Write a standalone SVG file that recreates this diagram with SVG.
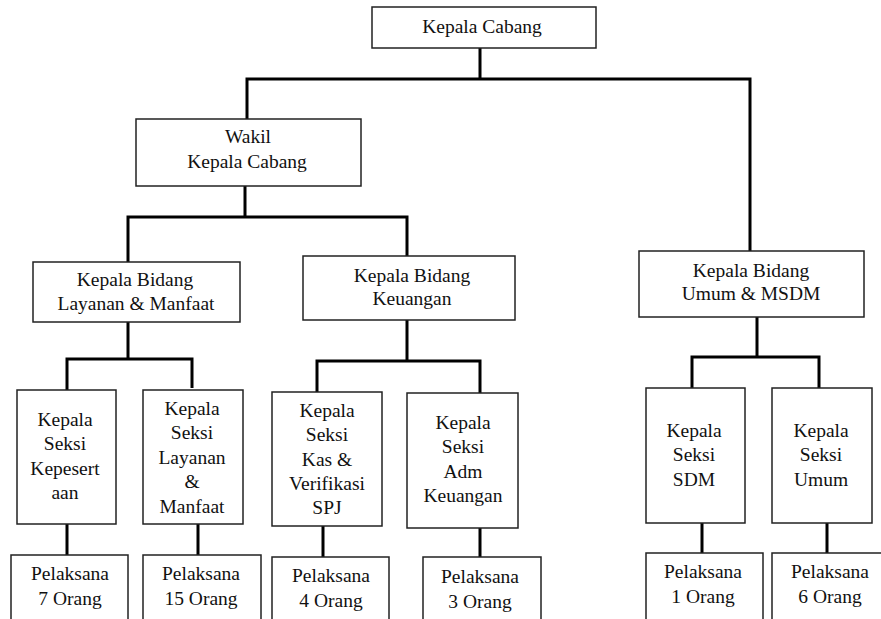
<svg xmlns="http://www.w3.org/2000/svg" width="881" height="619" viewBox="0 0 881 619">
<style>
.box{fill:#fff;stroke:#222;stroke-width:1.5}
.t{font-family:'Liberation Serif','Tinos','DejaVu Serif',serif;font-size:19.5px;fill:#111;text-anchor:middle}
.c{fill:none;stroke:#000;stroke-width:3;stroke-linejoin:miter}
</style>
<rect width="881" height="619" fill="#fff"/>
<g id="connectors">
<path class="c" d="M480,48V79M247,119V79H750V251"/>
<path class="c" d="M245,186V217M128,262V217H407V256"/>
<path class="c" d="M128,322V359M67,390V359H192V388"/>
<path class="c" d="M407,320V361M317,392V361H480V393"/>
<path class="c" d="M757,317V357M692,388V357H819V388"/>
<path class="c" d="M67,524V555M198,524V555M323,526V557M480,528V557M702,523V553M827,523V553"/>
</g>
<g id="kepala-cabang"><rect class="box" x="372" y="7" width="224" height="41"/><text class="t" x="482" y="33">Kepala Cabang</text></g>
<g id="wakil"><rect class="box" x="136" y="119" width="225" height="67"/><text class="t" x="248" y="143">Wakil</text><text class="t" x="247" y="168">Kepala Cabang</text></g>
<g id="bidang-layanan"><rect class="box" x="33" y="262" width="207" height="60"/><text class="t" x="135" y="286">Kepala Bidang</text><text class="t" x="136" y="310">Layanan &amp; Manfaat</text></g>
<g id="bidang-keuangan"><rect class="box" x="303" y="256" width="212" height="64"/><text class="t" x="412" y="282">Kepala Bidang</text><text class="t" x="412" y="305">Keuangan</text></g>
<g id="bidang-umum"><rect class="box" x="639" y="251" width="225" height="66"/><text class="t" x="751" y="277">Kepala Bidang</text><text class="t" x="751" y="300">Umum &amp; MSDM</text></g>
<g id="seksi-kepesertaan"><rect class="box" x="17" y="390" width="99" height="134"/><text class="t" x="65" y="426">Kepala</text><text class="t" x="65" y="450">Seksi</text><text class="t" x="65" y="475">Kepesert</text><text class="t" x="65" y="499">aan</text></g>
<g id="seksi-layanan"><rect class="box" x="143" y="390" width="100" height="134"/><text class="t" x="192" y="415">Kepala</text><text class="t" x="192" y="439">Seksi</text><text class="t" x="192" y="464">Layanan</text><text class="t" x="192" y="488">&amp;</text><text class="t" x="192" y="513">Manfaat</text></g>
<g id="seksi-kas"><rect class="box" x="272" y="392" width="110" height="134"/><text class="t" x="327" y="417">Kepala</text><text class="t" x="327" y="441">Seksi</text><text class="t" x="327" y="466">Kas &amp;</text><text class="t" x="327" y="490">Verifikasi</text><text class="t" x="327" y="514">SPJ</text></g>
<g id="seksi-adm"><rect class="box" x="407" y="393" width="111" height="135"/><text class="t" x="463" y="429">Kepala</text><text class="t" x="463" y="453">Seksi</text><text class="t" x="463" y="478">Adm</text><text class="t" x="463" y="502">Keuangan</text></g>
<g id="seksi-sdm"><rect class="box" x="646" y="388" width="99" height="135"/><text class="t" x="694" y="437">Kepala</text><text class="t" x="694" y="461">Seksi</text><text class="t" x="694" y="486">SDM</text></g>
<g id="seksi-umum"><rect class="box" x="772" y="388" width="100" height="135"/><text class="t" x="821" y="437">Kepala</text><text class="t" x="821" y="461">Seksi</text><text class="t" x="821" y="486">Umum</text></g>
<g id="pelaksana-7"><rect class="box" x="11" y="555" width="117" height="70"/><text class="t" x="70" y="580">Pelaksana</text><text class="t" x="70" y="605">7 Orang</text></g>
<g id="pelaksana-15"><rect class="box" x="143" y="555" width="118" height="70"/><text class="t" x="201" y="580">Pelaksana</text><text class="t" x="201" y="605">15 Orang</text></g>
<g id="pelaksana-4"><rect class="box" x="272" y="557" width="117" height="70"/><text class="t" x="331" y="582">Pelaksana</text><text class="t" x="331" y="607">4 Orang</text></g>
<g id="pelaksana-3"><rect class="box" x="423" y="557" width="118" height="70"/><text class="t" x="480" y="583">Pelaksana</text><text class="t" x="480" y="608">3 Orang</text></g>
<g id="pelaksana-1"><rect class="box" x="646" y="553" width="117" height="70"/><text class="t" x="703" y="578">Pelaksana</text><text class="t" x="703" y="603">1 Orang</text></g>
<g id="pelaksana-6"><rect class="box" x="772" y="553" width="117" height="70"/><text class="t" x="830" y="578">Pelaksana</text><text class="t" x="830" y="603">6 Orang</text></g>
</svg>
